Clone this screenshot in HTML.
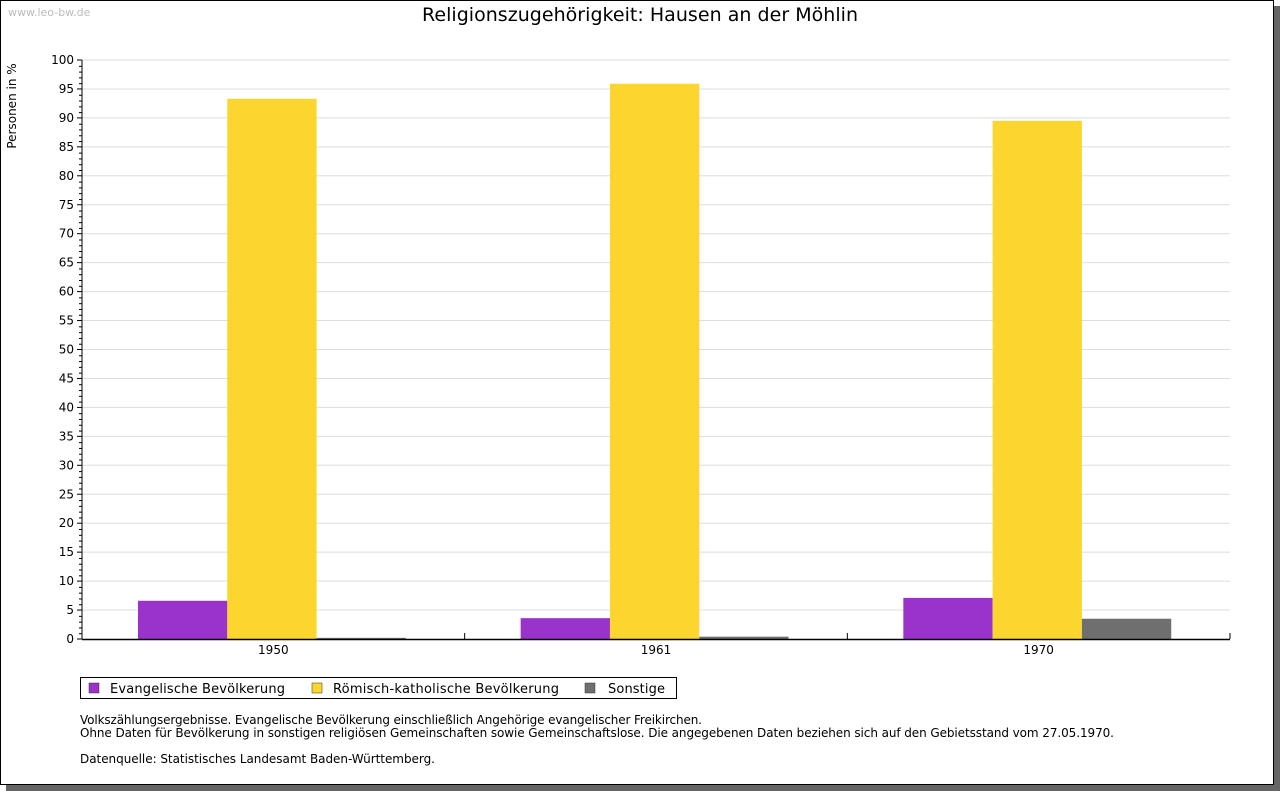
<!DOCTYPE html>
<html><head><meta charset="utf-8"><style>
body{margin:0;width:1280px;height:791px;overflow:hidden;background:#fff;font-family:"Liberation Sans",sans-serif}
</style></head><body>
<svg width="1280" height="791" xmlns="http://www.w3.org/2000/svg" font-family="Verdana,'DejaVu Sans',sans-serif">
<rect x="6" y="6" width="1274" height="785" fill="#666"/>
<rect x="0.5" y="0.5" width="1273" height="784" fill="#fff" stroke="#000"/>
<text x="8" y="16" font-size="11" fill="#bbb">www.leo-bw.de</text>
<text x="640" y="21" font-size="19" text-anchor="middle" textLength="436">Religionszugehörigkeit: Hausen an der Möhlin</text>
<text transform="translate(16,106) rotate(-90)" font-size="12" text-anchor="middle">Personen in %</text>
<g id="grid"></g><g id="bars"></g><g id="axes"></g>
<g>
<rect x="80.5" y="677.5" width="596" height="21" fill="#fff" stroke="#000"/>
<rect x="89" y="683" width="10" height="10" fill="#9933cc" stroke="#333" stroke-width="0.5"/>
<text x="110" y="693" font-size="13" textLength="175">Evangelische Bevölkerung</text>
<rect x="312" y="683" width="10" height="10" fill="#fcd62e" stroke="#333" stroke-width="0.5"/>
<text x="333" y="693" font-size="13" textLength="226">Römisch-katholische Bevölkerung</text>
<rect x="585" y="683" width="10" height="10" fill="#6f6f6f" stroke="#333" stroke-width="0.5"/>
<text x="608" y="693" font-size="13" textLength="57">Sonstige</text>
</g>
<g font-size="12">
<text x="80" y="724" textLength="622">Volkszählungsergebnisse. Evangelische Bevölkerung einschließlich Angehörige evangelischer Freikirchen.</text>
<text x="80" y="737" textLength="1034">Ohne Daten für Bevölkerung in sonstigen religiösen Gemeinschaften sowie Gemeinschaftslose. Die angegebenen Daten beziehen sich auf den Gebietsstand vom 27.05.1970.</text>
<text x="80" y="763" textLength="355">Datenquelle: Statistisches Landesamt Baden-Württemberg.</text>
</g>
</svg>
<script>
const categories=["1950","1961","1970"];
const evangelisch=[6.6,3.6,7.1];
const katholisch=[93.3,95.9,89.5];
const sonstige=[0.2,0.4,3.5];
const yTicks=[0,5,10,15,20,25,30,35,40,45,50,55,60,65,70,75,80,85,90,95,100];
const NS="http://www.w3.org/2000/svg";
const X0=82,X1=1230,Y0=639,Y1=60;
const y=v=>Y0-(v/100)*(Y0-Y1);
const bw=(X1-X0)/categories.length;
function mk(p,t,a){const e=document.createElementNS(NS,t);for(const k in a)e.setAttribute(k,a[k]);p.appendChild(e);return e;}
const grid=document.getElementById('grid'),bars=document.getElementById('bars'),axes=document.getElementById('axes');
yTicks.forEach(v=>{
 if(v>0){const l=mk(grid,'line',{x1:X0,x2:X1,y1:y(v),y2:y(v),stroke:'#ddd'});
 
 }
 const t=mk(axes,'text',{x:X0-8,y:y(v)+4,'font-size':12,'text-anchor':'end'});t.textContent=v;
 
 
 mk(axes,'line',{x1:X0-5,x2:X0,y1:y(v),y2:y(v),stroke:'#000'});
});
for(let v=0;v<100;v++){if(v%5)mk(axes,'line',{x1:X0-3,x2:X0,y1:y(v)+.5,y2:y(v)+.5,stroke:'#000'});}
const series=[[evangelisch,'#9933cc','evangelisch'],[katholisch,'#fcd62e','katholisch'],[sonstige,'#6f6f6f','sonstige']];
const barW=89.3,off=56;
categories.forEach((c,i)=>{
 series.forEach((s,j)=>{
  const v=s[0][i];
  const r=mk(bars,'rect',{x:X0+i*bw+off+j*barW,y:y(v),width:barW,height:Y0-y(v),fill:s[1]});
  
  
 });
 const t=mk(axes,'text',{x:X0+(i+.5)*bw,y:Y0+15,'font-size':12,'text-anchor':'middle'});t.textContent=c;
 
 
 mk(axes,'line',{x1:X0+(i+1)*bw,x2:X0+(i+1)*bw,y1:Y0-6,y2:Y0,stroke:'#000'});
});
mk(axes,'line',{x1:X0,x2:X0,y1:Y1,y2:Y0,stroke:'#000'});
mk(axes,'line',{x1:X0,x2:X1,y1:Y0+.5,y2:Y0+.5,stroke:'#000','stroke-width':1.5});
</script>
</body></html>
